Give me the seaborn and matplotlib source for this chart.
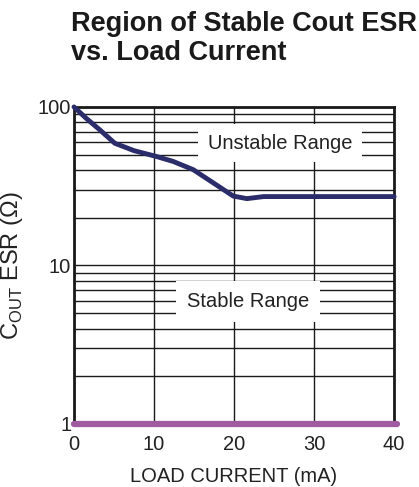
import matplotlib
matplotlib.use("Agg")
import matplotlib.pyplot as plt
import seaborn as sns
import numpy as np
import pandas as pd

# values
load_ma = [0, 1.5, 3.25, 5.1, 7.5, 10.3, 12.4, 14.9, 17.4, 19.9, 21.6, 23.7, 30, 40]
esr_upper = [100, 85, 71.5, 59, 53, 48.7, 45.3, 40.2, 33.2, 27.4, 26.4, 27.2, 27.2, 27.2]
lower_x = [0, 40.3]
esr_lower = [1, 1]
x_ticks = [0, 10, 20, 30, 40]
y_ticks = [1, 10, 100]

sns.set_style("white")
plt.rcParams['font.family'] = ['Liberation Sans', 'DejaVu Sans']
plt.rcParams['mathtext.fontset'] = 'custom'
plt.rcParams['mathtext.rm'] = 'Liberation Sans'

upper = pd.DataFrame({'load': load_ma, 'esr': esr_upper})
lower = pd.DataFrame({'load': lower_x, 'esr': esr_lower})

fig = plt.figure(figsize=(4.19, 4.87), dpi=100)
ax = fig.add_axes([0.1766, 0.1294, 0.764, 0.651])

ax.set_yscale('log')
ax.set_xlim(0, 40)
ax.set_ylim(1, 100)
ax.set_xticks(x_ticks)
ax.set_yticks(y_ticks)
ax.set_yticklabels([str(t) for t in y_ticks])
ax.yaxis.set_minor_locator(matplotlib.ticker.LogLocator(base=10, subs=np.arange(2, 10)))
ax.yaxis.set_minor_formatter(matplotlib.ticker.NullFormatter())

ax.grid(True, which='both', axis='y', color='#1a1a1a', lw=1.0)
ax.grid(True, which='major', axis='x', color='#1a1a1a', lw=1.0)
ax.tick_params(which='both', length=0, labelsize=14.5, colors='#222222')
ax.tick_params(axis='x', pad=8)
ax.tick_params(axis='y', pad=2)
for s in ax.spines.values():
    s.set_color('#1a1a1a')
    s.set_linewidth(2)

sns.lineplot(data=upper, x='load', y='esr', ax=ax, color='#2b2d6b', lw=3.5,
             clip_on=False, zorder=5)
sns.lineplot(data=lower, x='load', y='esr', ax=ax, color='#a05aa0', lw=4.5,
             clip_on=False, zorder=5)

ax.text(25.75, 59, 'Unstable Range', ha='center', va='center', fontsize=14.5,
        color='#222222', zorder=4,
        bbox=dict(facecolor='white', edgecolor='none', pad=7))
ax.text(21.75, 5.9, 'Stable Range', ha='center', va='center', fontsize=14.5,
        color='#222222', zorder=4,
        bbox=dict(facecolor='white', edgecolor='none', pad=8))

ax.set_xlabel('LOAD CURRENT (mA)', fontsize=14.5, color='#222222', labelpad=9)
ax.set_ylabel(r'C$_{\rm OUT}$ ESR (Ω)', fontsize=17, color='#222222', labelpad=9)

fig.text(0.170, 0.977, 'Region of Stable Cout ESR\nvs. Load Current',
         fontsize=19.5, fontweight='bold', color='#1a1a1a', ha='left', va='top',
         linespacing=1.12)

fig.savefig('out.png', dpi=100)
